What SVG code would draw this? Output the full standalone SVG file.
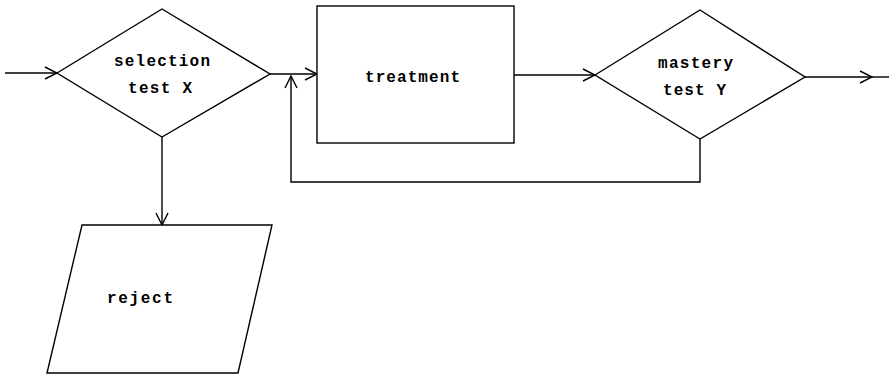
<svg xmlns="http://www.w3.org/2000/svg" width="890" height="374" viewBox="0 0 890 374">
<defs>
<marker id="arr" markerUnits="userSpaceOnUse" markerWidth="14" markerHeight="14" refX="13" refY="7" orient="auto" viewBox="0 0 14 14">
<path d="M1,1 L13,7 L1,13" fill="none" stroke="#000" stroke-width="1.4"/>
</marker>
</defs>
<style>
.shape{fill:#fff;stroke:#000;stroke-width:1.4;stroke-linejoin:miter}
.conn{fill:none;stroke:#000;stroke-width:1.4}
.lbl{font-family:"Liberation Mono","DejaVu Sans Mono",monospace;font-size:16px;font-weight:bold;fill:#000}
</style>
<rect width="890" height="374" fill="#fff"/>
<g id="connectors">
<line class="conn" x1="5" y1="73" x2="57" y2="73" marker-end="url(#arr)"/>
<line class="conn" x1="270" y1="74" x2="317" y2="74" marker-end="url(#arr)"/>
<line class="conn" x1="514" y1="75" x2="595" y2="75" marker-end="url(#arr)"/>
<line class="conn" x1="805" y1="77" x2="872" y2="77" marker-end="url(#arr)"/>
<line class="conn" x1="872" y1="77" x2="889" y2="77"/>
<polyline class="conn" points="700,139 700,182 291,182 291,76" marker-end="url(#arr)"/>
<line class="conn" x1="162" y1="137" x2="162" y2="225" marker-end="url(#arr)"/>
</g>
<g id="selection-test">
<polygon class="shape" points="57,73 162,9 270,74 162,137"/>
<text class="lbl" x="114" y="66" textLength="96" lengthAdjust="spacing">selection</text>
<text class="lbl" x="128" y="93" textLength="64" lengthAdjust="spacing">test X</text>
</g>
<g id="treatment">
<rect class="shape" x="317" y="6" width="197" height="137"/>
<text class="lbl" x="365" y="82" textLength="95" lengthAdjust="spacing">treatment</text>
</g>
<g id="mastery-test">
<polygon class="shape" points="595,75 700,10 805,77 700,139"/>
<text class="lbl" x="658" y="68" textLength="75" lengthAdjust="spacing">mastery</text>
<text class="lbl" x="663" y="95" textLength="63" lengthAdjust="spacing">test Y</text>
</g>
<g id="reject">
<polygon class="shape" points="82,225 272,225 238,373 47,373"/>
<text class="lbl" x="107" y="303" textLength="66" lengthAdjust="spacing">reject</text>
</g>
</svg>
